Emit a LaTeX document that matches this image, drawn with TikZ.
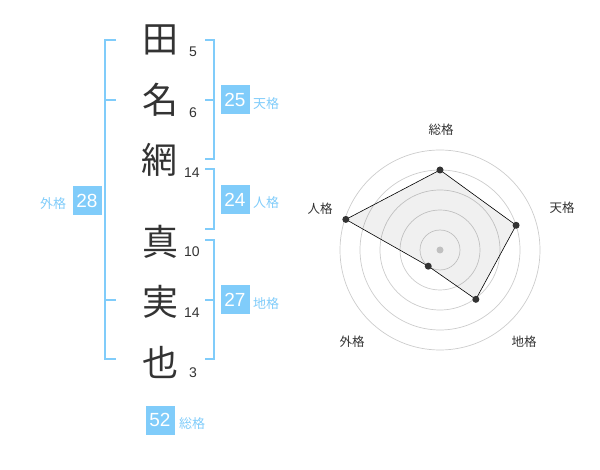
\documentclass[tikz,border=0pt]{standalone}
\usepackage{fontspec}
\setmainfont{Liberation Sans}
\newfontfamily\jp{Noto Sans CJK JP}
\usetikzlibrary{calc,positioning}
\definecolor{kakublue}{HTML}{80CCFA}
\definecolor{ink}{HTML}{333333}
\definecolor{ring}{HTML}{CCCCCC}

\begin{document}
\begin{tikzpicture}[x=1pt,y=-1pt]

\tikzstyle{kanji} = [font=\jp\fontsize{36}{36}\selectfont, text=ink, inner sep=0pt]
\tikzstyle{stroke} = [font=\fontsize{14}{14}\selectfont, text=ink, inner sep=0pt]
\tikzstyle{kakubox} = [fill=kakublue, text=white, minimum size=29pt, inner sep=0pt, font=\fontsize{19}{19}\selectfont]
\tikzstyle{kakulabel} = [text=kakublue, font=\jp\fontsize{13}{13}\selectfont, inner sep=0pt]
\tikzstyle{bracket} = [draw=kakublue, line width=2pt]
\tikzstyle{axislabel} = [text=ink, font=\jp\fontsize{12.5}{12.5}\selectfont, inner sep=0pt]
\tikzstyle{dot} = [circle, fill=ink, inner sep=0pt, minimum size=7pt]

\useasboundingbox (0,0) rectangle (600,470);

% name and strokes
\node[kanji] (c1) at (160,40) {田};
\node[kanji] (c2) at (160,100) {名};
\node[kanji] (c3) at (159,160) {網};
\node[kanji] (c4) at (160,242) {真};
\node[kanji] (c5) at (160,302) {実};
\node[kanji] (c6) at (160,362) {也};

\node[stroke] (s1) at (193,52) {5};
\node[stroke] (s2) at (193,113) {6};
\node[stroke] (s3) at (192,173) {14};
\node[stroke] (s4) at (192,252) {10};
\node[stroke] (s5) at (192,313) {14};
\node[stroke] (s6) at (193,373) {3};

% brackets
\draw[bracket] (116,40) -- (105,40) -- (105,359) -- (116,359);
\draw[bracket] (105,100) -- (116,100) (105,300) -- (116,300);
\draw[bracket] (205,40) -- (214,40) -- (214,159) -- (205,159) (205,100) -- (214,100);
\draw[bracket] (205,169) -- (214,169) -- (214,229) -- (205,229);
\draw[bracket] (205,240) -- (214,240) -- (214,359) -- (205,359) (205,300) -- (214,300);

% kaku values
\node[kakubox] (ten) at (235,100) {25};
\node[kakubox] (jin) at (235,200) {24};
\node[kakubox] (chi) at (235,300) {27};
\node[kakubox] (gai) at (87,201) {28};
\node[kakubox] (sou) at (160,420) {52};

\node[kakulabel] (ten-label) at (266,104) {天格};
\node[kakulabel] (jin-label) at (266,203) {人格};
\node[kakulabel] (chi-label) at (266,304) {地格};
\node[kakulabel] (gai-label) at (53,204) {外格};
\node[kakulabel] (sou-label) at (192,424) {総格};

% radar chart
\begin{scope}[shift={(440,250)}, yscale=-1]
\foreach \r in {20,40,60,80,100}
  \draw[ring, line width=0.7pt] (0,0) circle (\r);
\node[circle, fill=ring, inner sep=0pt, minimum size=7pt] (center) at (0,0) {};

\coordinate (q-sou) at (90:80);
\coordinate (q-ten) at (18:80);
\coordinate (q-chi) at (-54:61);
\coordinate (q-gai) at (-126:20);
\coordinate (q-jin) at (162:99);

\fill[black, fill opacity=0.06] (q-sou) -- (q-ten) -- (q-chi) -- (q-gai) -- (q-jin) -- cycle;
\draw[black, line width=0.6pt] (q-sou) -- (q-ten) -- (q-chi) -- (q-gai) -- (q-jin) -- cycle;

\foreach \k in {sou,ten,chi,gai,jin}
  \node[dot] (p-\k) at (q-\k) {};

\node[axislabel] (a-sou) at (1,120) {総格};
\node[axislabel] (a-ten) at (122,42) {天格};
\node[axislabel] (a-chi) at (84,-92) {地格};
\node[axislabel] (a-gai) at (-88,-92) {外格};
\node[axislabel] (a-jin) at (-120,41) {人格};
\end{scope}

\end{tikzpicture}
\end{document}
